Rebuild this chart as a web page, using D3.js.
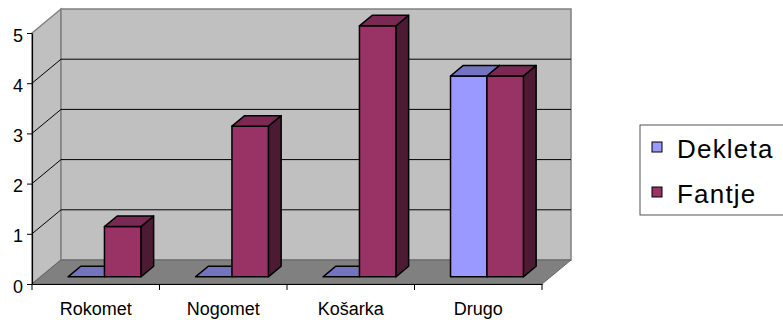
<!DOCTYPE html>
<html>
<head>
    <meta charset='utf-8'>
    <title>Šport</title>
    <style>
    body {
      margin: 0;
      background: #fff;
    }
    text {
      font-family: 'Liberation Sans', Arial, sans-serif;
    }
    </style>
    <script src='https://d3js.org/d3.v7.min.js'></script>
</head>
<body>
<div id="container"></div>
<script>
// ******* Data *******
const categories = ["Rokomet", "Nogomet", "Košarka", "Drugo"];
const seriesNames = ["Dekleta", "Fantje"];
const dekleta = [0, 0, 0, 4];
const fantje = [1, 3, 5, 4];
const yTicks = [0, 1, 2, 3, 4, 5];

const seriesValues = [dekleta, fantje];

// ******* Constants *******
const width = 783,
      height = 320;

// depth vector from the front plane to the back wall
const depth = {x: 29, y: -24};
// bars sit between these fractions of the depth
const f1 = 0.3, f2 = 0.74;

const colors = {
  Dekleta: {front: "#9999FF", top: "#7373BF", side: "#4D4D80"},
  Fantje:  {front: "#993366", top: "#7A2952", side: "#4D1A33"}
};

// ******* Scales *******
var x = d3.scaleBand()
    .domain(categories)
    .range([32, 542]);

var xs = d3.scaleBand()
    .domain(seriesNames)
    .range([0, x.bandwidth()])
    .paddingOuter(0.75);

var y = d3.scaleLinear()
    .domain([0, 5])
    .range([284, 33]);

// ******* Create SVG *******
var svg = d3.select("#container").append("svg")
    .attr("width", width)
    .attr("height", height)
    .style("display", "block");

const x0 = x.range()[0], x1 = x.range()[1];

// ******* Walls and floor *******
// left wall
svg.append("polygon")
    .attr("points", [[x0, y(5)], [x0 + depth.x, y(5) + depth.y],
                     [x0 + depth.x, y(0) + depth.y], [x0, y(0)]].join(" "))
    .attr("fill", "#C0C0C0")
    .attr("stroke", "#808080")
    .attr("stroke-width", 1.5);

// back wall
svg.append("polygon")
    .attr("points", [[x0 + depth.x, y(5) + depth.y], [x1 + depth.x, y(5) + depth.y],
                     [x1 + depth.x, y(0) + depth.y], [x0 + depth.x, y(0) + depth.y]].join(" "))
    .attr("fill", "#C0C0C0")
    .attr("stroke", "#808080")
    .attr("stroke-width", 1.5);

// floor
svg.append("polygon")
    .attr("points", [[x0, y(0)], [x1, y(0)], [x1 + depth.x, y(0) + depth.y],
                     [x0 + depth.x, y(0) + depth.y]].join(" "))
    .attr("fill", "#808080")
    .attr("stroke", "#666")
    .attr("stroke-width", 1);

// gridlines on both walls
var grid = svg.append("g")
    .attr("stroke", "#000")
    .attr("stroke-width", 1)
    .attr("fill", "none");

grid.selectAll("path")
    .data(yTicks.filter(d => d > 0 && d < 5))
    .enter()
    .append("path")
    .attr("d", d => `M${x0},${y(d)}L${x0 + depth.x},${y(d) + depth.y}L${x1 + depth.x},${y(d) + depth.y}`);

// ******* Bars *******
var bars = svg.append("g")
    .attr("stroke", "#000")
    .attr("stroke-width", 1.5)
    .attr("stroke-linejoin", "round");

const dd = {x: depth.x * (f2 - f1), y: depth.y * (f2 - f1)};

categories.forEach(function(cat, i) {
  seriesNames.forEach(function(name, s) {
    var v = seriesValues[s][i];
    var bx0 = x(cat) + xs(name) + depth.x * f1,
        bx1 = bx0 + xs.bandwidth(),
        yb = y(0) + depth.y * f1,
        yt = y(v) + depth.y * f1;
    var c = colors[name];
    var g = bars.append("g");

    if (v > 0) {
      g.append("polygon")
          .attr("points", [[bx1, yt], [bx1 + dd.x, yt + dd.y], [bx1 + dd.x, yb + dd.y], [bx1, yb]].join(" "))
          .attr("fill", c.side);
      g.append("rect")
          .attr("x", bx0)
          .attr("y", yt)
          .attr("width", bx1 - bx0)
          .attr("height", yb - yt)
          .attr("fill", c.front);
    }
    g.append("polygon")
        .attr("points", [[bx0, yt], [bx1, yt], [bx1 + dd.x, yt + dd.y], [bx0 + dd.x, yt + dd.y]].join(" "))
        .attr("fill", c.top);
  });
});

// ******* Axes *******
var yAxis = svg.append("g")
    .attr("transform", `translate(${x0}, 0)`)
    .call(d3.axisLeft(y).tickValues(yTicks).tickFormat(d3.format("d"))
          .tickSize(5).tickSizeOuter(0).tickPadding(4));

yAxis.select(".domain").attr("stroke", "#000").attr("stroke-width", 1.2);
yAxis.selectAll(".tick line").attr("stroke", "#000");
yAxis.selectAll("text")
    .attr("font-size", "18px")
    .attr("font-family", "'Liberation Sans', Arial, sans-serif")
    .attr("fill", "#000")
    .attr("dy", "0.45em");

var xAxis = svg.append("g")
    .attr("transform", `translate(0, ${y(0)})`)
    .call(d3.axisBottom(x).tickSize(0).tickSizeOuter(0).tickPadding(18));

xAxis.select(".domain").attr("stroke", "#000").attr("stroke-width", 1.2);
xAxis.selectAll("text")
    .attr("font-size", "18px")
    .attr("font-family", "'Liberation Sans', Arial, sans-serif")
    .attr("fill", "#000");

// category boundary ticks
xAxis.selectAll(".boundary")
    .data(categories.map(c => x(c)).concat([x1]))
    .enter()
    .append("line")
    .attr("class", "boundary")
    .attr("x1", d => d)
    .attr("x2", d => d)
    .attr("y1", 0)
    .attr("y2", 6)
    .attr("stroke", "#000");

// ******* Legend *******
var legend = svg.append("g")
    .attr("transform", "translate(640, 125)");

legend.append("rect")
    .attr("x", 0)
    .attr("y", 0)
    .attr("width", 170)
    .attr("height", 90)
    .attr("fill", "#fff")
    .attr("stroke", "#555")
    .attr("stroke-width", 1);

var items = legend.selectAll(".item")
    .data(seriesNames)
    .enter()
    .append("g")
    .attr("class", "item")
    .attr("transform", (d, i) => `translate(12, ${17 + i * 45})`);

items.append("rect")
    .attr("width", 10)
    .attr("height", 10)
    .attr("fill", d => colors[d].front)
    .attr("stroke", "#000")
    .attr("stroke-width", 1);

items.append("text")
    .attr("x", 25)
    .attr("y", 16)
    .attr("font-size", "26px")
    .attr("letter-spacing", "1.2px")
    .attr("fill", "#000")
    .text(d => d);
</script>
</body>
</html>
